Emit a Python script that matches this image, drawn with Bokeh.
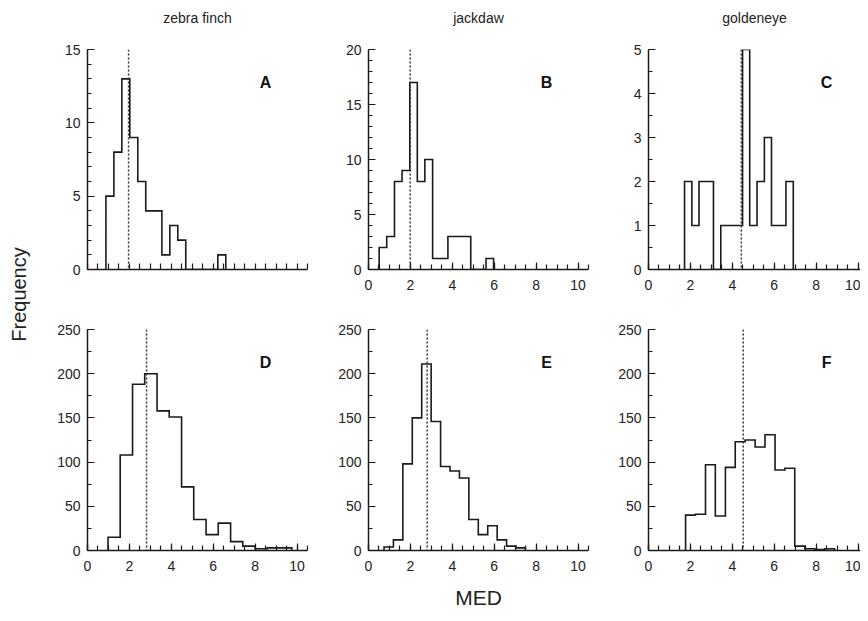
from bokeh.plotting import figure
from bokeh.layouts import row, column
from bokeh.models import Range1d, SingleIntervalTicker, FixedTicker, Span, Label, Title
from bokeh.embed import file_html
from bokeh.resources import INLINE

# ---------------- data ----------------
species = ["zebra finch", "jackdaw", "goldeneye"]
panel_letters = ["A", "B", "C", "D", "E", "F"]
x_label = "MED"
y_label = "Frequency"

# top row (A, B, C)
edges_A = [0.88, 1.26, 1.64, 2.02, 2.40, 2.78, 3.17, 3.55, 3.93, 4.31, 4.69, 5.07, 5.46, 5.84, 6.22, 6.60]
counts_A = [5, 8, 13, 9, 6, 4, 4, 1, 3, 2, 0, 0, 0, 0, 1]
median_A = 1.96

edges_B = [0.51, 0.87, 1.24, 1.60, 1.97, 2.33, 2.69, 3.06, 3.42, 3.79, 4.15, 4.51, 4.88, 5.24, 5.61, 5.97]
counts_B = [2, 3, 8, 9, 17, 8, 10, 1, 1, 3, 3, 3, 0, 0, 1]
median_B = 1.99

edges_C = [1.72, 2.07, 2.41, 2.76, 3.10, 3.45, 3.80, 4.14, 4.49, 4.83, 5.18, 5.53, 5.87, 6.22, 6.56, 6.91]
counts_C = [2, 1, 2, 2, 0, 1, 1, 1, 5, 1, 2, 3, 1, 1, 2]
median_C = 4.43

# bottom row (D, E, F)
edges_D = [0.98, 1.56, 2.15, 2.73, 3.32, 3.90, 4.49, 5.07, 5.66, 6.24, 6.83, 7.41, 8.00, 8.58, 9.17, 9.75]
counts_D = [15, 108, 188, 200, 158, 151, 72, 35, 18, 31, 10, 5, 2, 3, 3]
median_D = 2.82

edges_E = [0.74, 1.19, 1.64, 2.09, 2.54, 2.99, 3.44, 3.89, 4.34, 4.79, 5.24, 5.69, 6.14, 6.59, 7.04, 7.49]
counts_E = [4, 12, 98, 150, 211, 146, 95, 90, 82, 35, 18, 28, 12, 5, 3]
median_E = 2.80

edges_F = [1.77, 2.24, 2.72, 3.19, 3.67, 4.14, 4.61, 5.09, 5.56, 6.04, 6.51, 6.98, 7.46, 7.93, 8.41, 8.88]
counts_F = [40, 41, 97, 39, 94, 123, 125, 117, 131, 91, 93, 5, 2, 1, 2]
median_F = 4.52

# axis limits / ticks
x_max = 10.5
x_minor_ticks_A = [i * 0.5 for i in range(22)]
top_ymax = [15, 20, 5]
top_ymajor = [5, 5, 1]
top_yminor = [5, 5, 2]
bottom_ymax = 250
bottom_ymajor = 50
bottom_yminor = 2

# ---------------- styling ----------------
FONT = "Liberation Sans"
INK = "#1a1a1a"


def step_outline(edges, counts):
    xs = [edges[0]]
    ys = [0]
    for i, c in enumerate(counts):
        xs += [edges[i], edges[i + 1]]
        ys += [c, c]
    xs.append(edges[-1])
    ys.append(0)
    return xs, ys


def style_axis(ax, major_in, minor_in, standoff):
    ax.axis_line_color = INK
    ax.axis_line_width = 1.5
    ax.major_tick_line_color = INK
    ax.minor_tick_line_color = INK
    ax.major_tick_line_width = 1.2
    ax.minor_tick_line_width = 1.2
    ax.major_tick_in = major_in
    ax.major_tick_out = 0
    ax.minor_tick_in = minor_in
    ax.minor_tick_out = 0
    ax.major_label_text_font = FONT
    ax.major_label_text_font_size = "14px"
    ax.major_label_text_color = "#222222"
    ax.major_label_standoff = standoff


def make_panel(edges, counts, median, letter, ymax, ymajor, yminor, xmax,
               frame_w, frame_h, mb_left, mb_right, mb_top, mb_bottom,
               xlabels=True, xlabel=None):
    p = figure(frame_width=frame_w, frame_height=frame_h,
               output_backend="svg", toolbar_location=None,
               x_range=Range1d(0, xmax), y_range=Range1d(0, ymax),
               min_border_left=mb_left, min_border_right=mb_right,
               min_border_top=mb_top, min_border_bottom=mb_bottom,
               outline_line_color=None,
               background_fill_color="white", border_fill_color="white")
    p.grid.visible = False

    xs, ys = step_outline(edges, counts)
    p.line(xs, ys, line_color=INK, line_width=1.6, line_join="miter")

    p.add_layout(Span(location=median, dimension="height", line_color="#333333",
                      line_width=1.5, line_dash="2 2"))
    p.add_layout(Label(x=8.5, y=ymax * 0.851, text=letter, text_font=FONT,
                       text_font_size="16px", text_font_style="bold",
                       text_align="center", text_baseline="middle",
                       text_color="#111111"))

    xa = p.xaxis[0]
    ya = p.yaxis[0]
    if xlabels:
        xa.ticker = SingleIntervalTicker(interval=2, num_minor_ticks=4)
    else:
        xa.ticker = FixedTicker(ticks=[], minor_ticks=x_minor_ticks_A)
    ya.ticker = SingleIntervalTicker(interval=ymajor, num_minor_ticks=yminor)
    style_axis(xa, 7, 5, 10)
    style_axis(ya, 7, 4, 7)
    if not xlabels:
        xa.minor_tick_in = 6
    if xlabel:
        xa.axis_label = xlabel
        xa.axis_label_text_font = FONT
        xa.axis_label_text_font_size = "21px"
        xa.axis_label_text_font_style = "normal"
        xa.axis_label_text_color = "#222222"
        xa.axis_label_standoff = 12
    return p


def make_title_fig(text, frame_w, mb_left, mb_right):
    t = figure(frame_width=frame_w, frame_height=8, output_backend="svg", toolbar_location=None,
               x_axis_location=None, y_axis_location=None,
               min_border_left=mb_left, min_border_right=mb_right,
               min_border_top=30, min_border_bottom=0,
               outline_line_color=None, background_fill_color="white", border_fill_color="white")
    t.grid.visible = False
    t.title.text = text
    t.title.align = "center"
    t.title.text_font = FONT
    t.title.text_font_size = "14px"
    t.title.text_font_style = "normal"
    t.title.text_color = "#222222"
    return t


top_data = [(edges_A, counts_A, median_A), (edges_B, counts_B, median_B), (edges_C, counts_C, median_C)]
bot_data = [(edges_D, counts_D, median_D), (edges_E, counts_E, median_E), (edges_F, counts_F, median_F)]

# horizontal geometry: frame widths and borders per column
frame_ws = [220, 220, 212]
x_maxes = [x_max, x_max, x_max * 212 / 220]
mb_lefts = [43, 49, 49]
mb_rights = [12, 11, 0]

title_figs = [make_title_fig(species[i], frame_ws[i], mb_lefts[i], mb_rights[i]) for i in range(3)]

top_figs = []
for i in range(3):
    e, c, m = top_data[i]
    top_figs.append(make_panel(e, c, m, panel_letters[i], top_ymax[i], top_ymajor[i], top_yminor[i],
                               x_maxes[i], frame_ws[i], 220, mb_lefts[i], mb_rights[i], 11, 29,
                               xlabels=(i != 0)))

bot_figs = []
for i in range(3):
    e, c, m = bot_data[i]
    bot_figs.append(make_panel(e, c, m, panel_letters[i + 3], bottom_ymax, bottom_ymajor, bottom_yminor,
                               x_maxes[i], frame_ws[i], 221, mb_lefts[i], mb_rights[i], 31, 63,
                               xlabel=(x_label if i == 1 else None)))

strip = figure(width=44, height=588, output_backend="svg", toolbar_location=None,
               x_axis_location=None, y_axis_location=None, min_border=0, min_border_left=26,
               outline_line_color=None, background_fill_color="white", border_fill_color="white")
strip.grid.visible = False
strip.add_layout(Title(text=y_label, align="center", text_font=FONT, text_font_size="20px",
                       text_font_style="normal", text_color="#222222"), "left")

layout = row(strip, column(row(*title_figs), row(*top_figs), row(*bot_figs)))

with open("out.html", "w") as f:
    f.write(file_html(layout, INLINE))
